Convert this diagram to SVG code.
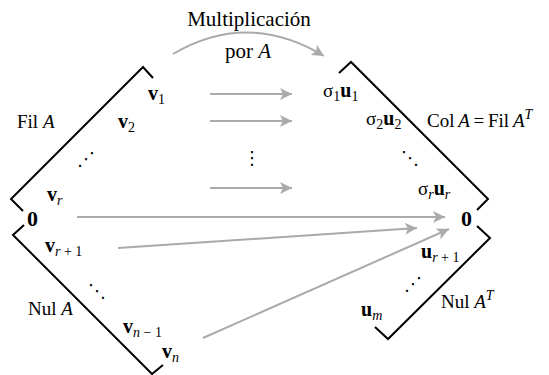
<svg xmlns="http://www.w3.org/2000/svg" width="549" height="375" viewBox="0 0 549 375">
<style>
text{font-family:"Liberation Serif","Times New Roman",serif;font-size:19px;fill:#000}
.t{font-size:21px}
.b{font-weight:bold;font-size:20px}
.z{font-weight:bold;font-size:22px}
.i{font-style:italic}
.s{font-size:14px;font-weight:normal}
.dots{font-family:"DejaVu Sans",sans-serif;font-size:18px}
.frame{fill:none;stroke:#000;stroke-width:2}
.arr{fill:none;stroke:#aaa;stroke-width:2;marker-end:url(#ah)}
</style>
<defs>
<marker id="ah" markerUnits="userSpaceOnUse" markerWidth="13" markerHeight="12" refX="12" refY="6" orient="auto">
<path d="M0,0 L12,6 L0,12 L3,6 z" fill="#aaa"/>
</marker>
</defs>
<rect width="549" height="375" fill="#fff"/>

<g id="row-space">
<polyline class="frame" points="153,78 143,67 11,199 23,211"/>
<text x="17" y="128">Fil <tspan class="i">A</tspan></text>
<text class="b" x="148" y="100">v<tspan class="s" dy="4">1</tspan></text>
<text class="b" x="118" y="128">v<tspan class="s" dy="4">2</tspan></text>
<text class="dots" x="77" y="165">⋰</text>
<text class="b" x="47" y="201">v<tspan class="s i" dy="4">r</tspan></text>
</g>

<g id="null-space">
<polyline class="frame" points="24,225 13,235 152,374 163,365"/>
<text class="b" x="45" y="252">v<tspan class="s" dy="4"><tspan class="i">r</tspan> + 1</tspan></text>
<text class="dots" x="88" y="297">⋱</text>
<text x="28" y="315">Nul <tspan class="i">A</tspan></text>
<text class="b" x="123" y="333">v<tspan class="s" dy="4"><tspan class="i">n</tspan> − 1</tspan></text>
<text class="b" x="162" y="358">v<tspan class="s i" dy="4">n</tspan></text>
</g>

<g id="zero-left">
<text class="z" x="27" y="226">0</text>
</g>

<g id="col-space">
<polyline class="frame" points="339,73 351,62 488,199 477,210"/>
<text x="323" y="97">σ<tspan class="s" dy="4">1</tspan><tspan class="b" dy="-4">u</tspan><tspan class="s" dy="4">1</tspan></text>
<text x="366" y="125">σ<tspan class="s" dy="4">2</tspan><tspan class="b" dy="-4">u</tspan><tspan class="s" dy="4">2</tspan></text>
<text class="dots" x="401" y="164">⋱</text>
<text x="427" y="127" word-spacing="-1">Col <tspan class="i">A</tspan> = Fil <tspan class="i">A</tspan><tspan class="s i" dy="-8">T</tspan></text>
<text x="418" y="195">σ<tspan class="s i" dy="4">r</tspan><tspan class="b" dy="-4">u</tspan><tspan class="s i" dy="4">r</tspan></text>
</g>

<g id="left-null-space">
<polyline class="frame" points="477,226 490,238 388,339 375,327"/>
<text class="b" x="421" y="258">u<tspan class="s" dy="4"><tspan class="i">r</tspan> + 1</tspan></text>
<text class="dots" x="404" y="290">⋰</text>
<text x="441" y="308">Nul <tspan class="i">A</tspan><tspan class="s i" dy="-8">T</tspan></text>
<text class="b" x="361" y="316">u<tspan class="s i" dy="4">m</tspan></text>
</g>

<g id="zero-right">
<text class="z" x="461" y="226">0</text>
</g>

<g id="middle-dots">
<text class="dots" x="243" y="164">⋮</text>
</g>

<g id="title">
<text class="t" x="249" y="26" text-anchor="middle">Multiplicación</text>
<text class="t" x="248" y="58" text-anchor="middle">por <tspan class="i">A</tspan></text>
</g>

<g id="connectors">
<path class="arr" d="M173,54 Q248,10 324,56"/>
<line class="arr" x1="210" y1="94" x2="292" y2="94"/>
<line class="arr" x1="210" y1="121" x2="292" y2="121"/>
<line class="arr" x1="210" y1="188" x2="292" y2="188"/>
<line class="arr" x1="77" y1="217" x2="445" y2="217"/>
<line class="arr" x1="118" y1="248" x2="417" y2="228"/>
<line class="arr" x1="203" y1="338" x2="449" y2="229"/>
</g>
</svg>
